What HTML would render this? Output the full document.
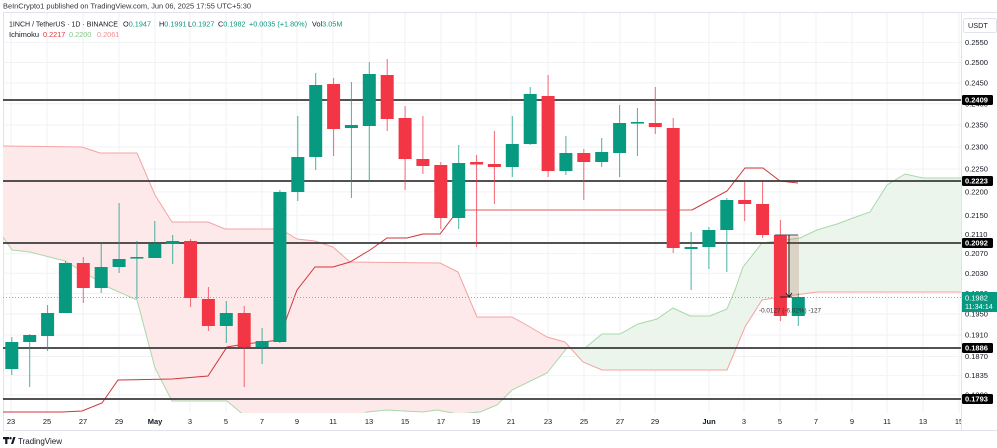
<!DOCTYPE html>
<html><head><meta charset="utf-8"><style>
html,body{margin:0;padding:0;background:#fff;}
svg{display:block;font-family:"Liberation Sans",Arial,sans-serif;}
</style></head><body>
<svg width="997" height="448" viewBox="0 0 997 448" xmlns="http://www.w3.org/2000/svg">
<defs>
<clipPath id="plot"><rect x="3" y="13" width="958" height="400"/></clipPath>
<clipPath id="taxis"><rect x="3" y="413" width="958" height="17"/></clipPath>
</defs>
<rect width="997" height="448" fill="#fff"/>
<!-- header -->
<text x="3" y="8.6" font-size="7.3" fill="#333" textLength="248" lengthAdjust="spacingAndGlyphs">BeInCrypto1 published on TradingView.com, Jun 06, 2025 17:55 UTC+5:30</text>
<line x1="3" y1="12.5" x2="997" y2="12.5" stroke="#e0e3eb" stroke-width="1"/>
<line x1="3.5" y1="12.5" x2="3.5" y2="430" stroke="#e0e3eb" stroke-width="1"/>
<line x1="3" y1="430.5" x2="997" y2="430.5" stroke="#e0e3eb" stroke-width="1"/>
<line x1="961.5" y1="12.5" x2="961.5" y2="430" stroke="#e0e3eb" stroke-width="1"/>

<g clip-path="url(#plot)">
<!-- grid -->
<g stroke="#f1f2f5" stroke-width="1">
<line x1="11" y1="13" x2="11" y2="413"/><line x1="47" y1="13" x2="47" y2="413"/><line x1="83" y1="13" x2="83" y2="413"/><line x1="119" y1="13" x2="119" y2="413"/><line x1="155" y1="13" x2="155" y2="413"/><line x1="190" y1="13" x2="190" y2="413"/><line x1="226" y1="13" x2="226" y2="413"/><line x1="262" y1="13" x2="262" y2="413"/><line x1="297" y1="13" x2="297" y2="413"/><line x1="333" y1="13" x2="333" y2="413"/><line x1="369" y1="13" x2="369" y2="413"/><line x1="405" y1="13" x2="405" y2="413"/><line x1="441" y1="13" x2="441" y2="413"/><line x1="476" y1="13" x2="476" y2="413"/><line x1="511" y1="13" x2="511" y2="413"/><line x1="548" y1="13" x2="548" y2="413"/><line x1="584" y1="13" x2="584" y2="413"/><line x1="620" y1="13" x2="620" y2="413"/><line x1="655" y1="13" x2="655" y2="413"/><line x1="709" y1="13" x2="709" y2="413"/><line x1="744" y1="13" x2="744" y2="413"/><line x1="780" y1="13" x2="780" y2="413"/><line x1="816" y1="13" x2="816" y2="413"/><line x1="852" y1="13" x2="852" y2="413"/><line x1="887" y1="13" x2="887" y2="413"/><line x1="923" y1="13" x2="923" y2="413"/><line x1="959" y1="13" x2="959" y2="413"/>
<line x1="3" y1="42.4" x2="961" y2="42.4"/><line x1="3" y1="62.5" x2="961" y2="62.5"/><line x1="3" y1="82.9" x2="961" y2="82.9"/><line x1="3" y1="103.8" x2="961" y2="103.8"/><line x1="3" y1="125.1" x2="961" y2="125.1"/><line x1="3" y1="146.9" x2="961" y2="146.9"/><line x1="3" y1="169.1" x2="961" y2="169.1"/><line x1="3" y1="191.9" x2="961" y2="191.9"/><line x1="3" y1="215.2" x2="961" y2="215.2"/><line x1="3" y1="234.2" x2="961" y2="234.2"/><line x1="3" y1="253.6" x2="961" y2="253.6"/><line x1="3" y1="273.3" x2="961" y2="273.3"/><line x1="3" y1="293.5" x2="961" y2="293.5"/><line x1="3" y1="314" x2="961" y2="314"/><line x1="3" y1="335" x2="961" y2="335"/><line x1="3" y1="356.5" x2="961" y2="356.5"/><line x1="3" y1="375.6" x2="961" y2="375.6"/><line x1="3" y1="395.1" x2="961" y2="395.1"/>
</g>

<!-- clouds -->
<polygon fill="#fde9ea" points="3,146 82,147 100,153 137,153 155,195 172,222 208,222 225,229 280,229 287,233 297,239 315,241 333,247 350,262 440,263 458,272 477,317 512,317 530,327 547,337 565,342 571,348 567,348 547,373 512,390 497,405 480,412 458,414 437,410 423,412 387,410 367,412 350,425 260,425 240,412 227,401 172,401 155,368 137,300 110,288 65,261 30,252 12,250 3,237"/>
<polygon fill="#ebf5ec" points="571,348 585,348 602,334 620,334 638,324 657,319 673,308 690,316 710,316 727,309 735,290 743,267 762,243 800,238 817,230 837,224 853,218 870,212 887,185 905,174 923,178 961,178 961,292 817,292 780,297 762,300 745,327 727,370 602,370 583,362 571,348"/>
<polyline fill="none" stroke="#f4a3a3" stroke-width="1" points="3,146 82,147 100,153 137,153 155,195 172,222 208,222 225,229 280,229 287,233 297,239 315,241 333,247 350,262 440,263 458,272 477,317 512,317 530,327 547,337 565,342 583,362 602,370 727,370 745,327 762,300 780,297 817,292 961,292"/>
<polyline fill="none" stroke="#a9d8aa" stroke-width="1" points="3,237 12,250 30,252 65,261 110,288 137,300 155,368 172,401 227,401 240,412 260,425 350,425 367,412 387,410 423,412 437,410 458,414 480,412 497,405 512,390 547,373 567,348 585,348 602,334 620,334 638,324 657,319 673,308 690,316 710,316 727,309 735,290 743,267 762,243 800,238 817,230 837,224 853,218 870,212 887,185 905,174 923,178 961,178"/>
<!-- base line -->
<polyline fill="none" stroke="#d0363c" stroke-width="1" points="3,412 62,412 82,411 102,403 118,380 172,379 208,376 227,347 245,344 280,340 287,317 297,290 315,267 333,267 350,262 370,250 387,238 407,238 423,234 440,234 453,217 466,210"/>
<line x1="466" y1="210" x2="692" y2="210" stroke="#eda0a0" stroke-width="1.8"/>
<polyline fill="none" stroke="#d0363c" stroke-width="1" points="692,210 727,191 745,168 763,168 780,181 798,183"/>

<!-- horizontal levels -->
<g stroke="#3a3a3a" stroke-width="1.8">
<line x1="3" y1="100" x2="961" y2="100"/>
<line x1="3" y1="181" x2="961" y2="181"/>
<line x1="3" y1="243" x2="961" y2="243"/>
<line x1="3" y1="348" x2="961" y2="348"/>
<line x1="3" y1="399" x2="961" y2="399"/>
</g>
<!-- current price line -->
<line x1="3" y1="297.5" x2="961" y2="297.5" stroke="#6cc2b0" stroke-width="1" stroke-dasharray="1,2"/>

<!-- candles -->
<g stroke-width="1">
<g fill="#089981" stroke="#089981">
<line x1="11.8" y1="337" x2="11.8" y2="375" stroke-opacity="0.75"/><rect x="5.3" y="342" width="13" height="27" stroke="none"/>
<line x1="29.7" y1="334" x2="29.7" y2="387" stroke-opacity="0.75"/><rect x="23.2" y="335" width="13" height="7" stroke="none"/>
<line x1="47.6" y1="305" x2="47.6" y2="351" stroke-opacity="0.75"/><rect x="41.1" y="313" width="13" height="23" stroke="none"/>
<line x1="65.4" y1="261" x2="65.4" y2="313" stroke-opacity="0.75"/><rect x="58.9" y="263" width="13" height="50" stroke="none"/>
<line x1="101.2" y1="243" x2="101.2" y2="293" stroke-opacity="0.75"/><rect x="94.7" y="267" width="13" height="21" stroke="none"/>
<line x1="119.1" y1="203" x2="119.1" y2="273" stroke-opacity="0.75"/><rect x="112.6" y="259" width="13" height="8" stroke="none"/>
<line x1="136.9" y1="241" x2="136.9" y2="299" stroke-opacity="0.75"/><rect x="130.4" y="257" width="13" height="1.6" stroke="none"/>
<line x1="154.8" y1="221" x2="154.8" y2="258" stroke-opacity="0.75"/><rect x="148.3" y="244" width="13" height="14" stroke="none"/>
<line x1="172.7" y1="235" x2="172.7" y2="264" stroke-opacity="0.75"/><rect x="166.2" y="241" width="13" height="3" stroke="none"/>
<line x1="226.3" y1="301" x2="226.3" y2="343" stroke-opacity="0.75"/><rect x="219.8" y="313" width="13" height="13" stroke="none"/>
<line x1="262.1" y1="328" x2="262.1" y2="364" stroke-opacity="0.75"/><rect x="255.6" y="341" width="13" height="6" stroke="none"/>
<line x1="279.9" y1="190" x2="279.9" y2="343" stroke-opacity="0.75"/><rect x="273.4" y="192" width="13" height="150" stroke="none"/>
<line x1="297.8" y1="116" x2="297.8" y2="201" stroke-opacity="0.75"/><rect x="291.3" y="157" width="13" height="35" stroke="none"/>
<line x1="315.7" y1="73" x2="315.7" y2="170" stroke-opacity="0.75"/><rect x="309.2" y="85" width="13" height="72" stroke="none"/>
<line x1="351.4" y1="82" x2="351.4" y2="198" stroke-opacity="0.75"/><rect x="344.9" y="125" width="13" height="3" stroke="none"/>
<line x1="369.3" y1="62" x2="369.3" y2="181" stroke-opacity="0.75"/><rect x="362.8" y="74" width="13" height="52" stroke="none"/>
<line x1="458.7" y1="145" x2="458.7" y2="229" stroke-opacity="0.75"/><rect x="452.2" y="163" width="13" height="55" stroke="none"/>
<line x1="512.3" y1="116" x2="512.3" y2="177" stroke-opacity="0.75"/><rect x="505.8" y="144" width="13" height="23" stroke="none"/>
<line x1="530.2" y1="87" x2="530.2" y2="145" stroke-opacity="0.75"/><rect x="523.7" y="94" width="13" height="50" stroke="none"/>
<line x1="565.9" y1="136" x2="565.9" y2="175" stroke-opacity="0.75"/><rect x="559.4" y="153" width="13" height="18" stroke="none"/>
<line x1="601.7" y1="138" x2="601.7" y2="167" stroke-opacity="0.75"/><rect x="595.2" y="152" width="13" height="10" stroke="none"/>
<line x1="619.6" y1="105" x2="619.6" y2="177" stroke-opacity="0.75"/><rect x="613.1" y="123" width="13" height="30" stroke="none"/>
<line x1="637.4" y1="108" x2="637.4" y2="156" stroke-opacity="0.75"/><rect x="630.9" y="122" width="13" height="1.6" stroke="none"/>
<line x1="691.1" y1="232" x2="691.1" y2="290" stroke-opacity="0.75"/><rect x="684.6" y="247" width="13" height="2" stroke="none"/>
<line x1="708.9" y1="227" x2="708.9" y2="269" stroke-opacity="0.75"/><rect x="702.4" y="230" width="13" height="17" stroke="none"/>
<line x1="726.8" y1="198" x2="726.8" y2="272" stroke-opacity="0.75"/><rect x="720.3" y="200" width="13" height="30" stroke="none"/>
<line x1="798.3" y1="293" x2="798.3" y2="326" stroke-opacity="0.75"/><rect x="791.8" y="297" width="13" height="19" stroke="none"/>
</g>
<g fill="#f23645" stroke="#f23645">
<line x1="83.3" y1="257" x2="83.3" y2="303" stroke-opacity="0.75"/><rect x="76.8" y="263" width="13" height="25" stroke="none"/>
<line x1="190.6" y1="239" x2="190.6" y2="307" stroke-opacity="0.75"/><rect x="184.1" y="241" width="13" height="57" stroke="none"/>
<line x1="208.4" y1="287" x2="208.4" y2="331" stroke-opacity="0.75"/><rect x="201.9" y="299" width="13" height="27" stroke="none"/>
<line x1="244.2" y1="306" x2="244.2" y2="387" stroke-opacity="0.75"/><rect x="237.7" y="313" width="13" height="34" stroke="none"/>
<line x1="333.6" y1="78" x2="333.6" y2="156" stroke-opacity="0.75"/><rect x="327.1" y="84" width="13" height="45" stroke="none"/>
<line x1="387.2" y1="59" x2="387.2" y2="131" stroke-opacity="0.75"/><rect x="380.7" y="75" width="13" height="44" stroke="none"/>
<line x1="405.1" y1="106" x2="405.1" y2="190" stroke-opacity="0.75"/><rect x="398.6" y="118" width="13" height="41" stroke="none"/>
<line x1="422.9" y1="116" x2="422.9" y2="174" stroke-opacity="0.75"/><rect x="416.4" y="159" width="13" height="7" stroke="none"/>
<line x1="440.8" y1="162" x2="440.8" y2="229" stroke-opacity="0.75"/><rect x="434.3" y="165" width="13" height="53" stroke="none"/>
<line x1="476.6" y1="155" x2="476.6" y2="247" stroke-opacity="0.75"/><rect x="470.1" y="162" width="13" height="2.5" stroke="none"/>
<line x1="494.4" y1="131" x2="494.4" y2="204" stroke-opacity="0.75"/><rect x="487.9" y="164" width="13" height="3" stroke="none"/>
<line x1="548.1" y1="75" x2="548.1" y2="177" stroke-opacity="0.75"/><rect x="541.6" y="96" width="13" height="75" stroke="none"/>
<line x1="583.8" y1="149" x2="583.8" y2="200" stroke-opacity="0.75"/><rect x="577.3" y="153" width="13" height="9" stroke="none"/>
<line x1="655.3" y1="87" x2="655.3" y2="134" stroke-opacity="0.75"/><rect x="648.8" y="123" width="13" height="4" stroke="none"/>
<line x1="673.2" y1="118" x2="673.2" y2="253" stroke-opacity="0.75"/><rect x="666.7" y="128" width="13" height="120" stroke="none"/>
<line x1="744.7" y1="182" x2="744.7" y2="221" stroke-opacity="0.75"/><rect x="738.2" y="200" width="13" height="4" stroke="none"/>
<line x1="762.6" y1="182" x2="762.6" y2="238" stroke-opacity="0.75"/><rect x="756.1" y="204" width="13" height="31" stroke="none"/>
<line x1="780.4" y1="220" x2="780.4" y2="321" stroke-opacity="0.75"/><rect x="773.9" y="235" width="13" height="81" stroke="none"/>
</g>
</g>

<!-- measure tool -->
<rect x="788" y="235" width="11" height="62" fill="rgba(170,90,70,0.22)"/>
<line x1="775" y1="235" x2="798" y2="235" stroke="#555" stroke-width="1"/>
<line x1="789" y1="235" x2="789" y2="297" stroke="#222" stroke-width="1"/>
<line x1="780" y1="297" x2="792" y2="297" stroke="#222" stroke-width="1"/>
<polyline points="786,293 789,297 792,293" fill="none" stroke="#222" stroke-width="1"/>
<text x="790" y="312.3" font-size="6.5" fill="#333" text-anchor="middle" textLength="62" lengthAdjust="spacingAndGlyphs">-0.0127 (-6.02%) -127</text>
</g>

<!-- legend -->
<g font-size="7.3">
<text x="9" y="26.5" fill="#131722" textLength="109" lengthAdjust="spacingAndGlyphs">1INCH / TetherUS · 1D · BINANCE</text>
<text x="123" y="26.5" fill="#131722">O<tspan fill="#089981">0.1947</tspan></text>
<text x="159" y="26.5" fill="#131722">H<tspan fill="#089981">0.1991</tspan></text>
<text x="188" y="26.5" fill="#131722">L<tspan fill="#089981">0.1927</tspan></text>
<text x="218" y="26.5" fill="#131722">C<tspan fill="#089981">0.1982</tspan></text>
<text x="249" y="26.5" fill="#089981" textLength="58" lengthAdjust="spacingAndGlyphs">+0.0035 (+1.80%)</text>
<text x="312" y="26.5" fill="#131722">Vol<tspan fill="#089981">3.05M</tspan></text>
<text x="9" y="37" fill="#131722" textLength="30" lengthAdjust="spacingAndGlyphs">Ichimoku</text>
<text x="43" y="37" fill="#e0353b">0.2217</text>
<text x="69" y="37" fill="#81c784">0.2200</text>
<text x="97" y="37" fill="#ef8f8f">0.2061</text>
</g>

<!-- price axis -->
<rect x="963.5" y="18.5" width="33" height="14" rx="2" fill="#fff" stroke="#e0e3eb"/>
<text x="968" y="28" font-size="7.3" fill="#131722">USDT</text>
<g font-size="7.5" fill="#131722">
<text x="965" y="45">0.2550</text>
<text x="965" y="65.1">0.2500</text>
<text x="965" y="85.5">0.2450</text>
<text x="965" y="106.4">0.2400</text>
<text x="965" y="127.7">0.2350</text>
<text x="965" y="149.5">0.2300</text>
<text x="965" y="171.7">0.2250</text>
<text x="965" y="194.5">0.2200</text>
<text x="965" y="217.8">0.2150</text>
<text x="965" y="236.8">0.2110</text>
<text x="965" y="256.2">0.2070</text>
<text x="965" y="275.9">0.2030</text>
<text x="965" y="296.1">0.1990</text>
<text x="965" y="316.6">0.1950</text>
<text x="965" y="337.6">0.1910</text>
<text x="965" y="359.1">0.1870</text>
<text x="965" y="378.2">0.1835</text>
<text x="965" y="397.7">0.1800</text>
</g>
<g fill="#000">
<rect x="962" y="95" width="31" height="10" rx="1.5"/>
<rect x="962" y="176" width="31" height="10" rx="1.5"/>
<rect x="962" y="238" width="31" height="10" rx="1.5"/>
<rect x="962" y="343" width="31" height="10" rx="1.5"/>
<rect x="962" y="394" width="31" height="10" rx="1.5"/>
</g>
<g font-size="7.5" fill="#fff" font-weight="bold">
<text x="965" y="102.7">0.2409</text>
<text x="965" y="183.7">0.2223</text>
<text x="965" y="245.7">0.2092</text>
<text x="965" y="350.7">0.1886</text>
<text x="965" y="401.7">0.1793</text>
</g>
<rect x="962" y="292" width="35" height="20" fill="#089981"/>
<text x="965" y="300.5" font-size="7.5" fill="#fff">0.1982</text>
<text x="965" y="309.2" font-size="7.3" fill="#fff">11:34:14</text>

<!-- time axis -->
<g font-size="7.5" fill="#131722" text-anchor="middle" clip-path="url(#taxis)">
<text x="11" y="424">23</text><text x="47" y="424">25</text><text x="83" y="424">27</text><text x="119" y="424">29</text>
<text x="155" y="424" font-weight="bold">May</text>
<text x="190" y="424">3</text><text x="226" y="424">5</text><text x="262" y="424">7</text><text x="297" y="424">9</text>
<text x="333" y="424">11</text><text x="369" y="424">13</text><text x="405" y="424">15</text><text x="441" y="424">17</text>
<text x="476" y="424">19</text><text x="511" y="424">21</text><text x="548" y="424">23</text><text x="584" y="424">25</text>
<text x="620" y="424">27</text><text x="655" y="424">29</text>
<text x="709" y="424" font-weight="bold">Jun</text>
<text x="744" y="424">3</text><text x="780" y="424">5</text><text x="816" y="424">7</text><text x="852" y="424">9</text>
<text x="887" y="424">11</text><text x="923" y="424">13</text><text x="959" y="424">15</text>
</g>

<!-- TradingView logo -->
<g fill="#131722">
<rect x="3" y="437" width="6" height="2.2"/>
<rect x="5.2" y="437" width="2.2" height="7"/>
<circle cx="10.5" cy="438.2" r="1.2"/>
<polygon points="11,444 13.3,437 15.5,437 13.2,444"/>
</g>
<text x="18" y="443.8" font-size="8" fill="#131722" textLength="44" lengthAdjust="spacingAndGlyphs">TradingView</text>
</svg>
</body></html>
